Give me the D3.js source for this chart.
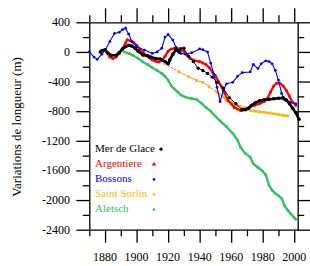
<!DOCTYPE html>
<html>
<head>
<meta charset="utf-8">
<script src="https://cdn.jsdelivr.net/npm/d3@7"></script>
<style>
  body { margin: 0; background: #fff; }
  svg { display: block; }
  svg text { font-family: "Liberation Serif", "Times New Roman", "DejaVu Serif", serif; }
</style>
</head>
<body>
<div id="chart"></div>
<script>
// Mer de Glace: dense record (thick) and sparse record (thin)
const merDense = [[1877,0],[1878,20],[1880,30],[1882,-20],[1884,-45],[1887,-45],[1889,-10],[1891,40],[1893,70],[1895,90],[1897,80],[1899,50],[1901,10],[1904,-40],[1907,-50],[1909,-70],[1912,-90],[1915,-95],[1918,-130],[1920,-160],[1921,-110],[1923,-30],[1925,30],[1927,0]];
const merSparse = [[1927,0],[1928,45],[1930,50],[1933,-60],[1936,-130],[1939,-220],[1942,-250],[1945,-290],[1948,-340],[1951,-410],[1955,-490],[1959,-620],[1963,-700],[1967,-780]];
const merLate = [[1967,-780],[1969,-780],[1971,-760],[1973,-720],[1975,-690],[1978,-660],[1981,-645],[1984,-640],[1987,-632],[1990,-625],[1993,-620],[1995,-650],[1997,-700],[1999,-760],[2001,-820],[2003,-910]];
const argentiere = [[1881,0],[1883,-70],[1885,-90],[1887,-70],[1889,-20],[1891,40],[1893,120],[1894,165],[1896,150],[1898,130],[1900,90],[1902,40],[1904,0],[1906,-50],[1908,-80],[1910,-110],[1912,-125],[1914,-135],[1916,-120],[1918,-60],[1920,10],[1922,40],[1924,50],[1926,45],[1928,30],[1930,10],[1932,-40],[1934,-90],[1937,-120],[1940,-130],[1942,-150],[1944,-170],[1946,-210],[1948,-270],[1950,-320],[1952,-400],[1954,-470],[1956,-560],[1958,-660],[1960,-700],[1962,-750],[1964,-770],[1966,-790],[1968,-780],[1970,-760],[1972,-740],[1975,-720],[1978,-700],[1981,-670],[1983,-630],[1985,-540],[1987,-460],[1989,-420],[1991,-425],[1993,-460],[1995,-520],[1997,-600],[1999,-680],[2001,-720]];
const bossons = [[1870,0],[1873,-70],[1875,-100],[1878,-30],[1880,20],[1883,140],[1886,250],[1889,265],[1891,300],[1893,320],[1895,240],[1897,140],[1900,70],[1905,25],[1910,-20],[1913,0],[1916,50],[1918,200],[1920,235],[1923,160],[1925,60],[1928,-20],[1931,-30],[1935,-10],[1940,40],[1942,30],[1945,0],[1947,-150],[1949,-300],[1951,-480],[1953,-670],[1955,-520],[1957,-430],[1961,-410],[1964,-330],[1967,-280],[1972,-270],[1974,-170],[1977,-225],[1979,-160],[1982,-120],[1984,-130],[1986,-160],[1988,-250],[1990,-380],[1992,-560],[1994,-650],[1997,-675],[2001,-700]];
const sorlinSparse = [[1918,-160],[1927,-270],[1933,-335],[1938,-385],[1942,-410],[1946,-470],[1951,-540]];
const sorlinDense = [[1951,-545],[1954,-590],[1957,-650],[1960,-680],[1963,-720],[1966,-740],[1969,-760],[1972,-790],[1975,-800],[1978,-810],[1981,-815],[1984,-825],[1987,-835],[1990,-845],[1993,-855],[1996,-865]];
const aletsch = [[1892,0],[1895,-20],[1898,-50],[1901,-90],[1904,-135],[1907,-170],[1910,-215],[1913,-250],[1916,-290],[1918,-330],[1920,-380],[1922,-460],[1924,-500],[1926,-540],[1928,-580],[1931,-610],[1935,-630],[1938,-640],[1941,-690],[1944,-750],[1947,-800],[1950,-870],[1953,-930],[1957,-1010],[1961,-1100],[1964,-1190],[1966,-1290],[1969,-1370],[1972,-1420],[1974,-1510],[1977,-1560],[1980,-1610],[1982,-1660],[1984,-1800],[1986,-1870],[1988,-1910],[1990,-1940],[1992,-1980],[1994,-2080],[1996,-2140],[1998,-2190],[2000,-2240],[2001,-2260]];

const legendNames = ['Mer de Glace', 'Argentiere', 'Bossons', 'Saint Sorlin', 'Aletsch'];
const legendColors = ['#000000', '#ff0000', '#0000ff', '#ffb800', '#33c060'];
const yTicks = [400, 0, -400, -800, -1200, -1600, -2000, -2400];
const xTicks = [1880, 1900, 1920, 1940, 1960, 1980, 2000];

const W = 310, H = 266;
const x = d3.scaleLinear().domain([1870, 2002.2]).range([89.3, 297.7]);
const y = d3.scaleLinear().domain([-2400, 400]).range([229.7, 22.3]);

const svg = d3.select('#chart').append('svg').attr('width', W).attr('height', H)
    .attr('font-family', '"Liberation Serif", "Times New Roman", serif');

// axes: major ticks labelled, minor every 10 years / 200 m
const minorX = d3.range(1870, 2003, 10);
const minorY = d3.range(-2400, 401, 200);
const isMajX = v => v % 20 === 0;
const isMajY = v => v % 400 === 0;

const axB = svg.append('g').attr('transform', `translate(0,${y(-2400)})`)
    .call(d3.axisBottom(x).tickValues(minorX).tickSize(0).tickFormat(''));
axB.selectAll('.tick line').attr('y2', d => isMajX(d) ? 13 : 6.5);
const axT = svg.append('g').attr('transform', `translate(0,${y(400)})`)
    .call(d3.axisTop(x).tickValues(minorX).tickSize(0).tickFormat(''));
axT.selectAll('.tick line').attr('y2', d => isMajX(d) ? -14 : -7);
const axL = svg.append('g').attr('transform', `translate(${x(1870)},0)`)
    .call(d3.axisLeft(y).tickValues(minorY).tickSize(0).tickFormat(''));
axL.selectAll('.tick line').attr('x2', d => isMajY(d) ? -13 : -6.5);
const axR = svg.append('g').attr('transform', `translate(${x(2002.2)},0)`)
    .call(d3.axisRight(y).tickValues(minorY).tickSize(0).tickFormat(''));
axR.selectAll('.tick line').attr('x2', d => isMajY(d) ? 13 : 6.5);
svg.selectAll('.domain, .tick line').attr('stroke', '#000').attr('stroke-width', 1.3);

svg.append('g').selectAll('text').data(xTicks).join('text')
    .attr('x', d => x(d)).attr('y', 261).attr('text-anchor', 'middle')
    .style('font-size', '12px').text(d => d);
svg.append('g').selectAll('text').data(yTicks).join('text')
    .attr('x', 70).attr('y', d => y(d) + 4).attr('text-anchor', 'end')
    .style('font-size', '12px').text(d => String(d));
svg.append('text').attr('transform', `translate(21,127) rotate(-90)`).attr('text-anchor', 'middle')
    .style('font-size', '13px').text('Variations de longueur (m)');

const line = d3.line().x(d => x(d[0])).y(d => y(d[1]));
function series(data, color, width, r, dash) {
    const g = svg.append('g');
    g.append('path').datum(data).attr('fill', 'none').attr('stroke', dash ? '#ff4a1a' : color)
        .attr('stroke-width', width).attr('stroke-linejoin', 'round').attr('stroke-linecap', 'round')
        .attr('stroke-dasharray', dash || null).attr('d', line);
    g.selectAll('circle').data(data).join('circle')
        .attr('cx', d => x(d[0])).attr('cy', d => y(d[1])).attr('r', r).attr('fill', color);
}

series(aletsch, legendColors[4], 2.3, 1.4);
series(sorlinSparse, legendColors[3], 0.8, 1.6, '2,1.5');
series(sorlinDense, legendColors[3], 2.3, 1.4);
series(argentiere, legendColors[1], 2.2, 1.5);
series(bossons, legendColors[2], 1.1, 1.4);
series(merDense, legendColors[0], 2.6, 1.8);
series(merSparse, legendColors[0], 0.9, 1.7);
series(merLate, legendColors[0], 2.6, 1.8);

// legend
const lg = svg.append('g');
legendNames.forEach((name, i) => {
    const cy = 147.7 + i * 15.1;
    lg.append('text').attr('x', 95).attr('y', cy + 4).attr('fill', legendColors[i])
        .style('font-size', '11px').text(name);
    const mx = i === 0 ? 161 : 154;
    if (i === 1) {
        lg.append('path').attr('d', d3.symbol(d3.symbolTriangle, 8)()).attr('transform', `translate(${mx},${cy + 1.5})`).attr('fill', legendColors[i]);
    } else {
        lg.append('circle').attr('cx', mx).attr('cy', cy + 1.5).attr('r', i === 0 ? 1.6 : 1.3).attr('fill', legendColors[i]);
    }
});
</script>
</body>
</html>
